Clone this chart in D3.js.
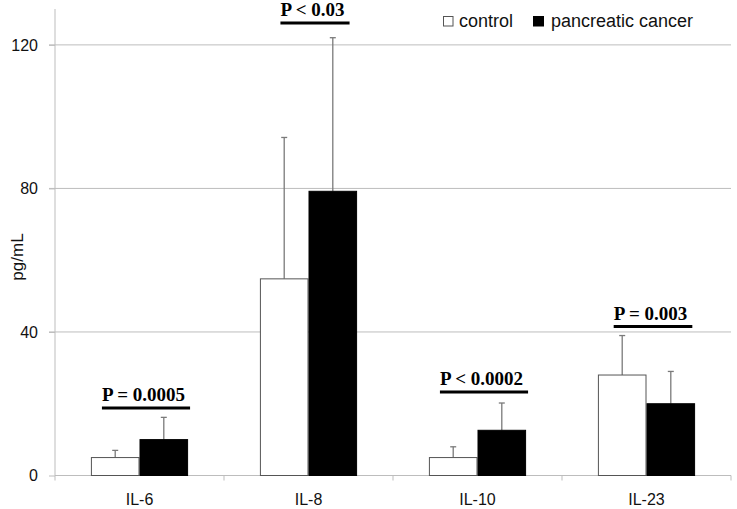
<!DOCTYPE html>
<html><head><meta charset="utf-8">
<script src="https://cdn.jsdelivr.net/npm/d3@7"></script>
<style>body{margin:0;background:#fff}svg{display:block}</style>
</head><body>
<svg id="c" width="737" height="509"></svg>
<script>
const categories = ["IL-6","IL-8","IL-10","IL-23"];
const seriesNames = ["control","pancreatic cancer"];
const controlValues = [5, 54.8, 5, 28];
const controlErrTop = [7, 94.2, 8, 39];
const cancerValues = [10, 79.2, 12.6, 20];
const cancerErrTop = [16.2, 122, 20.2, 29];
const pLabels = ["P = 0.0005","P < 0.03","P < 0.0002","P = 0.003"];
const pLabelLevel = [18.8, 126.1, 23.3, 41.5];
const yTicks = [0, 40, 80, 120];

(function(){
const svg = d3.select("#c");
const pLeft = 55, pRight = 731, pBottom = 475.5, pTop = 9;
const sans = "'Liberation Sans', Arial, sans-serif";
const x0 = d3.scaleBand().domain(categories).range([pLeft, pRight]).padding(0);
const x1 = d3.scaleBand().domain(seriesNames).range([0, x0.bandwidth()]).paddingInner(0).paddingOuter(0.739);
const y = d3.scaleLinear().domain([0, 130]).range([pBottom, pTop]);

// gridlines
svg.append("g").selectAll("line").data(yTicks.filter(d=>d>0)).join("line")
  .attr("x1", pLeft - 6).attr("x2", pRight).attr("y1", d=>y(d)).attr("y2", d=>y(d))
  .attr("stroke", "#bdbdbd").attr("stroke-width", 1);

// y axis
const yAxis = svg.append("g").attr("transform", `translate(${pLeft},0)`)
  .call(d3.axisLeft(y).tickValues(yTicks).tickSize(6).tickPadding(11).tickFormat(d3.format("d")));
yAxis.select(".domain").remove();
yAxis.append("line").attr("x1",0).attr("x2",0).attr("y1",pTop).attr("y2",pBottom).attr("stroke","#bdbdbd");
yAxis.selectAll(".tick line").attr("stroke","#bdbdbd");
yAxis.selectAll(".tick text").attr("font-family",sans).attr("font-size",16).attr("fill","#111");

// x axis
const xAxis = svg.append("g").attr("transform", `translate(0,${pBottom})`)
  .call(d3.axisBottom(x0).tickSize(0).tickPadding(18));
xAxis.select(".domain").remove();
xAxis.append("line").attr("x1",pLeft).attr("x2",pRight).attr("y1",0).attr("y2",0).attr("stroke","#bdbdbd");
xAxis.selectAll(".bt").data(d3.range(categories.length+1)).join("line")
  .attr("x1", i=>pLeft + i*x0.step()).attr("x2", i=>pLeft + i*x0.step()).attr("y1",0).attr("y2",5).attr("stroke","#bdbdbd");
xAxis.selectAll(".tick text").attr("font-family",sans).attr("font-size",16).attr("fill","#111");

// bars
const rows = categories.map((c,i)=>({c, vals:[
  {s:"control", v:controlValues[i], e:controlErrTop[i]},
  {s:"pancreatic cancer", v:cancerValues[i], e:cancerErrTop[i]}]}));
const g = svg.append("g").selectAll("g").data(rows).join("g")
  .attr("transform", d=>`translate(${x0(d.c)},0)`);
g.selectAll(".err").data(d=>d.vals).join("g").each(function(d){
  const cx = x1(d.s) + x1.bandwidth()/2;
  const s = d3.select(this);
  s.append("line").attr("x1",cx).attr("x2",cx).attr("y1",y(d.v)).attr("y2",y(d.e)).attr("stroke","#7a7a7a").attr("stroke-width",1.3);
  s.append("line").attr("x1",cx-3).attr("x2",cx+3).attr("y1",y(d.e)).attr("y2",y(d.e)).attr("stroke","#7a7a7a").attr("stroke-width",1.3);
});
g.selectAll("rect").data(d=>d.vals).join("rect")
  .attr("x", d=>x1(d.s)+0.5).attr("width", x1.bandwidth()-1)
  .attr("y", d=>y(d.v)).attr("height", d=>pBottom - y(d.v))
  .attr("fill", d=>d.s==="control" ? "#fff" : "#000")
  .attr("stroke", d=>d.s==="control" ? "#555" : "#000").attr("stroke-width",1);

// p-value annotations
const pg = svg.append("g").selectAll("g").data(categories).join("g");
pg.each(function(c,i){
  const s = d3.select(this);
  const cx = x0(c) + x0.bandwidth()/2 + 4;
  const ly = y(pLabelLevel[i]);
  const txt = s.append("text").attr("x",cx).attr("y",ly-7).attr("text-anchor","middle")
    .attr("font-family","'Liberation Serif','Times New Roman',serif").attr("font-weight","bold").attr("font-size",19)
    .text(pLabels[i]);
  const w = txt.node().getComputedTextLength();
  s.append("line").attr("x1",cx - w/2).attr("x2",cx + w/2 + 5).attr("y1",ly).attr("y2",ly)
    .attr("stroke","#000").attr("stroke-width",3);
});

// y label
svg.append("text").attr("transform","translate(23,257) rotate(-90)").attr("text-anchor","middle")
  .attr("font-family",sans).attr("font-size",17).attr("fill","#111").text("pg/mL");

// legend
const lg = svg.append("g").attr("transform","translate(443,16)");
lg.append("rect").attr("x",0.5).attr("y",0.5).attr("width",9.5).attr("height",9.5).attr("fill","#fff").attr("stroke","#555");
lg.append("text").attr("x",16).attr("y",11).attr("font-family",sans).attr("font-size",18).attr("fill","#111").text(seriesNames[0]);
lg.append("rect").attr("x",90).attr("y",0).attr("width",11).attr("height",10.5).attr("fill","#000");
lg.append("text").attr("x",108).attr("y",11).attr("font-family",sans).attr("font-size",18).attr("fill","#111").text(seriesNames[1]);
})();
</script>
</body></html>
